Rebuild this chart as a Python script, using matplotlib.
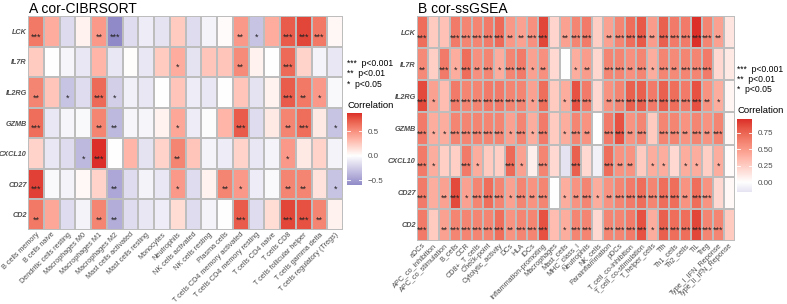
import numpy as np
import matplotlib
matplotlib.use("Agg")
import matplotlib.pyplot as plt
from matplotlib.colors import ListedColormap, Normalize

plt.rcParams['font.family'] = ['Liberation Sans', 'DejaVu Sans']

genes = ["LCK", "IL7R", "IL2RG", "GZMB", "CXCL10", "CD27", "CD2"]

cells_a = ["B cells memory", "B cells naive", "Dendritic cells resting", "Macrophages M0",
           "Macrophages M1", "Macrophages M2", "Mast cells activated", "Mast cells resting",
           "Monocytes", "Neutrophils", "NK cells activated", "NK cells resting", "Plasma cells",
           "T cells CD4 memory activated", "T cells CD4 memory resting", "T cells CD4 naive",
           "T cells CD8", "T cells follicular helper", "T cells gamma delta",
           "T cells regulatory (Tregs)"]

corr_a = {
    "LCK":    [0.60, 0.38, -0.18, 0.06, 0.46, -0.60, -0.17, -0.09, -0.14, 0.24, -0.17, -0.06, 0.02, 0.46, -0.30, 0.38, 0.72, 0.80, 0.60, 0.04],
    "IL7R":   [0.24, 0.00, -0.05, -0.12, 0.33, -0.12, 0.01, -0.12, 0.24, 0.38, -0.14, 0.26, 0.26, 0.52, 0.06, 0.00, 0.66, 0.20, -0.06, -0.12],
    "IL2RG":  [0.55, 0.26, -0.30, -0.17, 0.66, -0.24, -0.08, -0.12, 0.00, 0.26, -0.09, -0.12, 0.00, 0.26, -0.14, 0.06, 0.72, 0.60, 0.46, -0.03],
    "GZMB":   [0.65, -0.12, -0.05, -0.03, 0.55, -0.36, -0.05, -0.05, 0.06, 0.40, -0.09, -0.02, 0.33, 0.72, -0.17, 0.10, 0.55, 0.65, 0.10, -0.30],
    "CXCL10": [0.20, -0.12, -0.17, -0.36, 0.87, 0.00, 0.33, -0.14, 0.20, 0.55, 0.26, -0.06, -0.09, 0.20, -0.12, -0.06, 0.46, 0.10, 0.20, -0.06],
    "CD27":   [0.82, -0.03, -0.06, 0.03, 0.20, -0.45, -0.17, -0.06, -0.12, 0.46, -0.17, 0.06, 0.55, 0.46, -0.09, -0.03, 0.55, 0.55, 0.13, -0.30],
    "CD2":    [0.60, 0.40, -0.17, -0.06, 0.55, -0.42, -0.17, -0.12, -0.09, 0.16, -0.17, -0.06, 0.00, 0.72, -0.17, 0.16, 0.80, 0.76, 0.55, 0.06],
}
sig_a = {
    "LCK":    ['***', '', '', '', '**', '***', '', '', '', '', '', '', '', '**', '*', '', '***', '***', '***', ''],
    "IL7R":   ['', '', '', '', '', '', '', '', '', '*', '', '', '', '**', '', '', '***', '', '', ''],
    "IL2RG":  ['**', '', '*', '', '***', '*', '', '', '', '', '', '', '', '', '', '', '***', '**', '*', ''],
    "GZMB":   ['***', '', '', '', '**', '**', '', '', '', '*', '', '', '', '***', '', '', '**', '***', '', '*'],
    "CXCL10": ['', '', '', '*', '***', '', '', '', '', '**', '', '', '', '', '', '', '*', '', '', ''],
    "CD27":   ['***', '', '', '', '', '**', '', '', '', '*', '', '', '**', '*', '', '', '**', '**', '', '*'],
    "CD2":    ['**', '', '', '', '**', '**', '', '', '', '', '', '', '', '***', '', '', '***', '***', '**', ''],
}

cells_b = ["aDCs", "APC_co_inhibition", "APC_co_stimulation", "B_cells", "CCR", "CD8+_T_cells",
           "Check-point", "Cytolytic_activity", "DCs", "HLA", "iDCs", "Inflammation-promoting",
           "Macrophages", "Mast_cells", "MHC_class_I", "Neutrophils", "NK_cells",
           "Parainflammation", "pDCs", "T_cell_co-inhibition", "T_cell_co-stimulation",
           "T_helper_cells", "Tfh", "Th1_cells", "Th2_cells", "TIL", "Treg",
           "Type_I_IFN_Reponse", "Type_II_IFN_Reponse"]

corr_b = {
    "LCK":    [0.71, 0.26, 0.31, 0.65, 0.60, 0.60, 0.65, 0.73, 0.51, 0.47, 0.55, 0.88, 0.21, 0.47, 0.60, 0.65, 0.24, 0.47, 0.60, 0.71, 0.80, 0.49, 0.77, 0.65, 0.65, 0.955, 0.60, 0.47, 0.13],
    "IL7R":   [0.58, 0.24, 0.65, 0.41, 0.71, 0.55, 0.60, 0.41, 0.60, 0.65, 0.47, 0.55, 0.19, 0.00, 0.41, 0.49, 0.20, 0.60, 0.60, 0.55, 0.60, 0.41, 0.60, 0.58, 0.60, 0.60, 0.65, 0.19, 0.11],
    "IL2RG":  [0.86, 0.47, 0.33, 0.65, 0.60, 0.60, 0.65, 0.65, 0.60, 0.60, 0.47, 0.71, 0.26, 0.41, 0.83, 0.65, 0.19, 0.53, 0.60, 0.77, 0.77, 0.65, 0.77, 0.71, 0.65, 0.83, 0.53, 0.41, 0.05],
    "GZMB":   [0.65, 0.41, 0.41, 0.60, 0.60, 0.60, 0.60, 0.60, 0.47, 0.60, 0.41, 0.65, 0.26, 0.41, 0.60, 0.53, 0.00, 0.65, 0.83, 0.53, 0.60, 0.26, 0.60, 0.60, 0.53, 0.60, 0.53, 0.60, 0.03],
    "CXCL10": [0.65, 0.41, 0.24, 0.24, 0.65, 0.41, 0.26, 0.24, 0.73, 0.47, 0.08, 0.60, 0.19, -0.15, 0.77, 0.19, -0.08, 0.71, 0.53, 0.53, 0.26, 0.41, 0.41, 0.19, 0.41, 0.41, 0.24, 0.41, 0.02],
    "CD27":   [0.65, 0.41, 0.47, 0.86, 0.47, 0.60, 0.71, 0.60, 0.47, 0.60, 0.53, 0.60, 0.00, 0.41, 0.53, 0.60, 0.41, 0.53, 0.60, 0.65, 0.71, 0.60, 0.71, 0.71, 0.53, 0.71, 0.53, 0.19, 0.03],
    "CD2":    [0.65, 0.26, 0.47, 0.60, 0.60, 0.60, 0.60, 0.71, 0.53, 0.60, 0.60, 0.83, 0.33, 0.41, 0.60, 0.60, 0.19, 0.60, 0.60, 0.65, 0.83, 0.41, 0.77, 0.71, 0.71, 0.88, 0.60, 0.60, 0.26],
}
sig_b = {
    "LCK":    ['***', '', '', '***', '***', '***', '***', '***', '**', '**', '***', '***', '', '**', '***', '***', '', '**', '***', '***', '***', '**', '***', '***', '***', '***', '***', '**', ''],
    "IL7R":   ['**', '', '***', '*', '***', '**', '***', '*', '***', '***', '*', '**', '', '', '*', '**', '', '***', '***', '**', '***', '*', '***', '**', '***', '***', '***', '', ''],
    "IL2RG":  ['***', '*', '', '***', '***', '***', '***', '***', '***', '***', '*', '***', '', '*', '***', '***', '', '**', '***', '***', '***', '***', '***', '***', '***', '***', '**', '*', ''],
    "GZMB":   ['***', '*', '*', '***', '***', '***', '***', '***', '*', '***', '*', '***', '', '*', '***', '**', '', '***', '***', '**', '***', '', '***', '***', '**', '***', '**', '***', ''],
    "CXCL10": ['***', '*', '', '', '***', '*', '', '', '***', '*', '', '***', '', '', '***', '', '', '***', '**', '**', '', '*', '*', '', '*', '*', '', '*', ''],
    "CD27":   ['***', '', '**', '***', '*', '***', '***', '***', '*', '***', '**', '***', '', '*', '**', '***', '*', '**', '***', '***', '***', '***', '***', '***', '**', '***', '***', '', ''],
    "CD2":    ['***', '', '**', '***', '***', '***', '***', '***', '**', '***', '***', '***', '', '*', '***', '***', '', '***', '***', '***', '***', '*', '***', '***', '***', '***', '***', '***', ''],
}

W, H = 787, 304
LOW, MID, HIGH = "#5C5DAF", "#FFFFFF", "#DC2F2A"
TXT = "#4D4D4D"
GRID = "#BDBDBD"


def hex2rgb(h):
    h = h.lstrip('#')
    return np.array([int(h[i:i + 2], 16) / 255 for i in (0, 2, 4)])


def srgb_to_lab(c):
    c = np.where(c <= 0.04045, c / 12.92, ((c + 0.055) / 1.055) ** 2.4)
    M = np.array([[0.4124564, 0.3575761, 0.1804375],
                  [0.2126729, 0.7151522, 0.0721750],
                  [0.0193339, 0.1191920, 0.9503041]])
    xyz = M @ c / np.array([0.95047, 1.0, 1.08883])
    f = np.where(xyz > 216 / 24389, np.cbrt(xyz), (24389 / 27 * xyz + 16) / 116)
    return np.array([116 * f[1] - 16, 500 * (f[0] - f[1]), 200 * (f[1] - f[2])])


def lab_to_srgb(lab):
    L, a, b = lab
    fy = (L + 16) / 116
    fx = fy + a / 500
    fz = fy - b / 200
    f = np.array([fx, fy, fz])
    xyz = np.where(f ** 3 > 216 / 24389, f ** 3, (116 * f - 16) / (24389 / 27))
    xyz = xyz * np.array([0.95047, 1.0, 1.08883])
    Minv = np.array([[3.2404542, -1.5371385, -0.4985314],
                     [-0.9692660, 1.8760108, 0.0415560],
                     [0.0556434, -0.2040259, 1.0572252]])
    c = Minv @ xyz
    c = np.clip(c, 0, 1)
    return np.where(c <= 0.0031308, 12.92 * c, 1.055 * c ** (1 / 2.4) - 0.055)


def make_cmap():
    lo, mi, hi = (srgb_to_lab(hex2rgb(x)) for x in (LOW, MID, HIGH))
    cols = []
    for t in np.linspace(0, 1, 256):
        if t < 0.5:
            s = t / 0.5
            lab = lo + (mi - lo) * s
        else:
            s = (t - 0.5) / 0.5
            lab = mi + (hi - mi) * s
        cols.append(np.clip(lab_to_srgb(lab), 0, 1))
    return ListedColormap(cols)


cmap = make_cmap()


def fr(x0, y0, x1, y1):
    return [x0 / W, 1 - y1 / H, (x1 - x0) / W, (y1 - y0) / H]


def heat(fig, rect, cells, corr, sig):
    data = np.array([corr[g] for g in genes])
    m = np.abs(data).max()
    norm = Normalize(-m, m)
    ax = fig.add_axes(rect)
    nr, nc = data.shape
    ax.pcolormesh(np.arange(nc + 1), np.arange(nr + 1), data, cmap=cmap, norm=norm,
                  edgecolors=GRID, linewidth=1.4)
    ax.set_xlim(0, nc)
    ax.set_ylim(nr, 0)
    for s in ax.spines.values():
        s.set_visible(False)
    for i, g in enumerate(genes):
        for j in range(nc):
            st = sig[g][j]
            if st:
                ax.text(j + 0.5, i + 0.68, st, ha='center', va='center', fontsize=6.5,
                        color='#222222')
    ax.set_xticks(np.arange(nc) + 0.5)
    ax.set_xticklabels(cells, rotation=45, ha='right', va='top', rotation_mode='anchor',
                       fontsize=5.2, color=TXT)
    ax.set_yticks(np.arange(nr) + 0.5)
    ax.set_yticklabels(genes, fontsize=5.2, fontweight='bold', fontstyle='italic', color=TXT)
    ax.tick_params(length=0, pad=0.8)
    return data.min(), data.max(), norm


def colorbar(fig, rect, dmin, dmax, norm, ticks, labels):
    ax = fig.add_axes(rect)
    grad = np.linspace(dmax, dmin, 300)[:, None]
    ax.imshow(grad, aspect='auto', cmap=cmap, norm=norm, extent=[0, 1, dmin, dmax],
              origin='upper')
    ax.set_xlim(0, 1)
    ax.set_ylim(dmin, dmax)
    ax.set_xticks([])
    ax.yaxis.tick_right()
    ax.set_yticks(ticks)
    ax.set_yticklabels(labels, fontsize=5.8, color=TXT)
    ax.tick_params(length=0, pad=4)
    for s in ax.spines.values():
        s.set_visible(False)
    for v in ticks:
        ax.plot([0, 0.2], [v, v], color='white', lw=0.6)
        ax.plot([0.8, 1], [v, v], color='white', lw=0.6)


def px(x, y):
    return x / W, 1 - y / H


fig = plt.figure(figsize=(W / 100, H / 100), dpi=100)

amin, amax, anorm = heat(fig, fr(28, 16, 343, 230), cells_a, corr_a, sig_a)
bmin, bmax, bnorm = heat(fig, fr(417, 16, 735, 241), cells_b, corr_b, sig_b)

fig.text(*px(29, 9), "A cor-CIBRSORT", fontsize=10, ha='left', va='center', color='black')
fig.text(*px(418, 9), "B cor-ssGSEA", fontsize=10, ha='left', va='center', color='black')

for x0, y0 in [(347, 64), (737, 70)]:
    fig.text(*px(x0, y0), "***  p<0.001", fontsize=6.2, ha='left', va='center')
    fig.text(*px(x0, y0 + 10), "**  p<0.01", fontsize=6.2, ha='left', va='center')
    fig.text(*px(x0, y0 + 20), "*  p<0.05", fontsize=6.2, ha='left', va='center')

fig.text(*px(347, 105), "Correlation", fontsize=6.8, ha='left', va='center')
fig.text(*px(737, 111), "Correlation", fontsize=6.8, ha='left', va='center')

colorbar(fig, fr(347, 113, 362, 185), amin, amax, anorm, [-0.5, 0.0, 0.5],
         ["\u22120.5", "0.0", "0.5"])
colorbar(fig, fr(737, 119, 752, 192), bmin, bmax, bnorm, [0.0, 0.25, 0.5, 0.75],
         ["0.00", "0.25", "0.50", "0.75"])

fig.savefig("out.png", dpi=100)
